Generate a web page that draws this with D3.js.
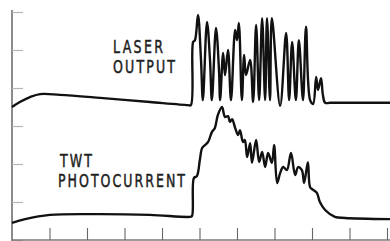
<!DOCTYPE html>
<html>
<head>
<meta charset="utf-8">
<script src="https://cdn.jsdelivr.net/npm/d3@7"></script>
<style>
    html, body { margin: 0; padding: 0; background: #ffffff; }
    svg { display: block; }
</style>
</head>
<body>
<svg id="chart"></svg>
<script>
// time axis: 0-100 (10 per division), level axis: 0-60 (10 per division)
const xTicks = [0, 10, 20, 30, 40, 50, 60, 70, 80, 90, 100];
const yTicks = [0, 10, 20, 30, 40, 50, 60];

const laserTime = [0, 2.1, 4.8, 7.5, 12.8, 23.5, 36.8, 46.9, 47.7, 48.3, 48.8, 49.6, 50.4, 50.9,
    52.0, 52.8, 53.3, 54.4, 55.2, 55.5, 56.3, 56.8, 57.6, 58.4, 59.5, 60.0, 60.5, 61.3, 61.9, 62.4,
    63.5, 64.3, 65.1, 65.9, 66.7, 67.5, 68.0, 68.8, 69.3, 71.5, 73.1, 73.9, 74.7, 75.7, 76.5, 77.6,
    78.4, 79.5, 80.3, 81.1, 81.6, 82.4, 82.9, 83.5, 84.8, 100.8];
const laserLevel = [35.0, 36.3, 37.6, 38.4, 38.2, 37.4, 36.3, 35.5, 35.5, 52.1, 52.6, 59.2, 47.4, 36.8,
    57.4, 47.4, 36.8, 55.8, 44.7, 36.8, 49.2, 43.4, 50.0, 36.8, 55.3, 52.6, 57.1, 36.8, 48.7, 43.4,
    47.4, 36.3, 56.6, 36.8, 58.4, 36.8, 58.4, 36.8, 58.4, 35.3, 54.5, 36.8, 52.1, 36.8, 52.6, 36.8,
    56.1, 36.8, 35.8, 42.9, 39.5, 42.6, 38.2, 36.1, 36.1, 36.1];

const photoTime = [0, 3.5, 10.1, 23.5, 36.8, 47.5, 48.0, 48.5, 49.3, 50.1, 50.7, 51.5, 52.3, 53.3,
    54.1, 54.9, 56.0, 56.8, 57.6, 58.1, 58.7, 59.5, 60.3, 60.8, 61.6, 62.1, 62.7, 63.5, 64.0, 65.1,
    65.9, 66.7, 67.5, 68.3, 69.3, 69.9, 70.7, 71.5, 72.3, 73.3, 74.4, 75.5, 76.3, 77.3, 77.9, 78.9,
    79.5, 80.3, 81.3, 82.1, 83.5, 86.1, 88.8, 100.8];
const photoLevel = [4.5, 5.5, 6.6, 6.8, 6.6, 6.1, 6.3, 16.3, 16.8, 21.1, 24.2, 25.0, 25.8, 28.4,
    29.5, 32.9, 35.0, 32.4, 32.6, 31.1, 31.8, 29.5, 27.6, 28.9, 25.8, 26.3, 21.8, 25.5, 20.3, 26.3,
    20.5, 23.2, 19.2, 22.9, 20.3, 25.0, 15.0, 17.6, 19.2, 18.4, 22.9, 17.1, 19.2, 18.4, 15.0, 20.5,
    13.9, 13.2, 12.4, 10.0, 7.9, 6.1, 5.8, 5.5];

const labels = [
    { text: "LASER", x: 113, y: 53, len: 50 },
    { text: "OUTPUT", x: 113, y: 73, len: 62 },
    { text: "TWT", x: 60, y: 166.5, len: 32 },
    { text: "PHOTOCURRENT", x: 58, y: 187, len: 127 }
];

const width = 390, height = 241;
const squeeze = 0.74; // lettering is a narrow stencil face

const svg = d3.select("#chart")
    .attr("width", width)
    .attr("height", height);

const x = d3.scaleLinear().domain([0, 100]).range([12, 387]);
const y = d3.scaleLinear().domain([0, 60]).range([240, 12]);

// axes (ticks point inward like the scope graticule)
const yAxis = svg.append("g")
    .attr("transform", `translate(${x(0)},0)`)
    .call(d3.axisLeft(y).tickValues(yTicks).tickSizeInner(-11).tickSizeOuter(0).tickFormat(""));
yAxis.select(".domain").attr("stroke", "#6f6f6f").attr("stroke-width", 1.6).attr("d", "M0,10V241");
yAxis.selectAll(".tick line").attr("stroke", "#b5b5b5").attr("stroke-width", 1.2);

const xAxis = svg.append("g")
    .attr("transform", `translate(0,${y(0)})`)
    .call(d3.axisBottom(x).tickValues(xTicks.slice(1)).tickSizeInner(-12).tickSizeOuter(0).tickFormat(""));
xAxis.select(".domain").attr("stroke", "#7a7a7a").attr("stroke-width", 1.6).attr("d", `M${x(0)},0H${width}`);
xAxis.selectAll(".tick line").attr("stroke", "#666").attr("stroke-width", 1.1);

const line = d3.line()
    .x(d => x(d[0]))
    .y(d => y(d[1]))
    .curve(d3.curveCatmullRom.alpha(0.5));

const laser = laserTime.map((t, i) => [t, laserLevel[i]]);
const photo = photoTime.map((t, i) => [t, photoLevel[i]]);

[laser, photo].forEach(series => {
    svg.append("path")
        .datum(series)
        .attr("fill", "none")
        .attr("stroke", "#111")
        .attr("stroke-width", 2.4)
        .attr("stroke-linejoin", "round")
        .attr("d", line);
});

svg.selectAll(".label")
    .data(labels)
    .enter()
    .append("text")
    .attr("class", "label")
    .attr("transform", d => `translate(${d.x},${d.y}) scale(${squeeze},1)`)
    .attr("textLength", d => d.len / squeeze)
    .attr("lengthAdjust", "spacing")
    .attr("font-family", "DejaVu Sans")
    .attr("font-size", 17)
    .attr("fill", "#1e1e1e")
    .attr("stroke", "#1e1e1e")
    .attr("stroke-width", 0.5)
    .text(d => d.text);
</script>
</body>
</html>
